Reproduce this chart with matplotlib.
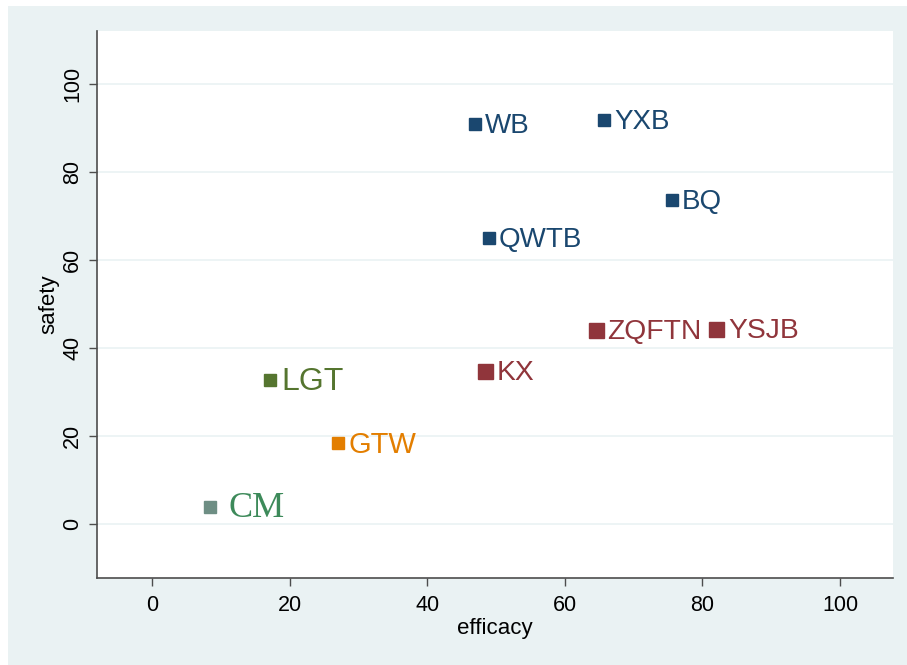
import matplotlib
matplotlib.use("Agg")
import matplotlib.pyplot as plt
from matplotlib.patches import Rectangle

# data
names = ["WB", "YXB", "BQ", "QWTB", "ZQFTN", "YSJB", "KX", "LGT", "GTW", "CM"]
efficacy = [46.9, 65.7, 75.6, 49.0, 64.5, 82.0, 48.4, 17.2, 27.0, 8.4]
safety = [90.9, 91.8, 73.6, 65.0, 44.1, 44.3, 34.8, 32.7, 18.4, 3.9]
groups = ["navy", "navy", "navy", "navy", "maroon", "maroon", "maroon",
          "green", "orange", "cm"]

# style per group: marker colour, text colour, marker size, font size, family, gap
styles = {
    "navy": ("#1a476f", "#1a476f", 8.3, 20, "Liberation Sans", 3),
    "maroon": ("#90353b", "#90353b", 10.8, 20.3, "Liberation Sans", 3),
    "green": ("#55752f", "#55752f", 8.8, 23, "Liberation Sans", 3.5),
    "orange": ("#e37e00", "#e37e00", 8.8, 21, "Liberation Sans", 3),
    "cm": ("#6e8e84", "#3d8a5a", 8.8, 26, "Liberation Serif", 9),
}

bg = "#eaf2f3"
plt.rcParams["font.family"] = "Liberation Sans"

fig = plt.figure(figsize=(9.07, 6.65), dpi=100, facecolor="white")
fig.add_artist(Rectangle((8 / 907, 0), 1, 1 - 6 / 665, transform=fig.transFigure,
                         facecolor=bg, edgecolor="none", zorder=-10))

ax = fig.add_axes([97 / 907, 87 / 665, 796 / 907, 547 / 665])
ax.set_facecolor("white")

for n, x, y, g in zip(names, efficacy, safety, groups):
    mc, tc, ms, fs, fam, gap = styles[g]
    ax.plot(x, y, marker="s", color=mc, markersize=ms, linestyle="none", zorder=3)
    ax.annotate(n, (x, y), xytext=(ms * 0.5 + gap, -1.5), textcoords="offset points",
                color=tc, fontsize=fs, family=fam, va="center", ha="left")

ax.set_xlim(-8.0, 107.7)
ax.set_ylim(-12.3, 112.0)
ax.set_xticks([0, 20, 40, 60, 80, 100])
ax.set_yticks([0, 20, 40, 60, 80, 100])
ax.grid(axis="y", color=bg, linewidth=1.2)
ax.set_axisbelow(True)

for s in ["top", "right"]:
    ax.spines[s].set_visible(False)
for s in ["left", "bottom"]:
    ax.spines[s].set_color("#4d4d4d")
    ax.spines[s].set_linewidth(1.2)

ax.tick_params(direction="out", length=6, width=1, color="#4d4d4d", labelsize=15.5, pad=6)
ax.tick_params(axis="y", pad=4)
for lab in ax.get_yticklabels():
    lab.set_rotation(90)
    lab.set_va("center")

ax.set_xlabel("efficacy", fontsize=16, labelpad=2)
ax.set_ylabel("safety", fontsize=16, labelpad=2)

fig.savefig("out.png", dpi=100, facecolor=fig.get_facecolor())
